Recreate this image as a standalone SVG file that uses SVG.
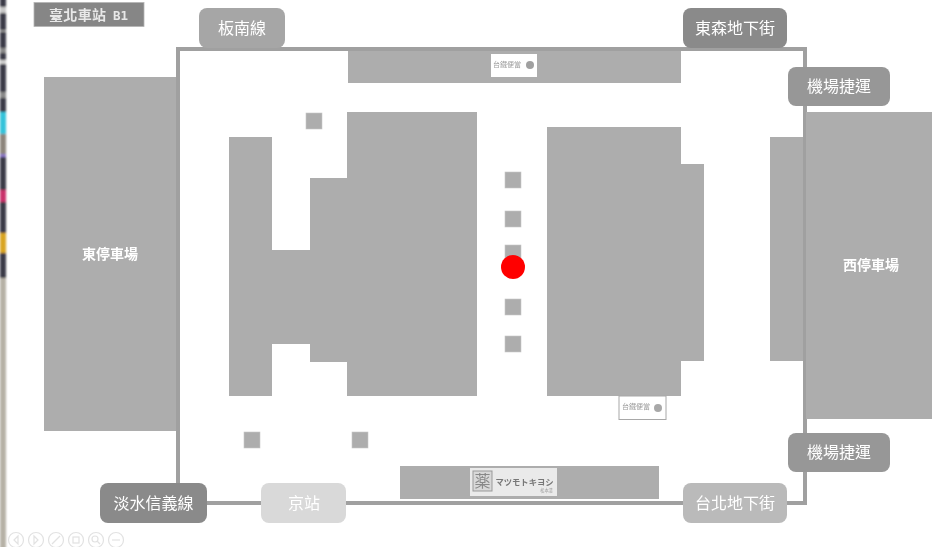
<svg xmlns="http://www.w3.org/2000/svg" width="932" height="547" viewBox="0 0 932 547">
<defs>
<filter id="soft" x="0" y="0" width="932" height="547" filterUnits="userSpaceOnUse"><feGaussianBlur stdDeviation="0.5"/></filter>
<filter id="softer" x="0" y="0" width="932" height="547" filterUnits="userSpaceOnUse"><feGaussianBlur stdDeviation="0.8"/></filter>
</defs>
<style>
.b{fill:#adadad}
.l{fill:#fff;font-family:"Noto Sans CJK TC","Noto Sans",sans-serif;text-anchor:middle;font-size:16px}
.a{fill:#fff;font-family:"Noto Sans CJK TC","Noto Sans",sans-serif;text-anchor:middle;font-size:14px;font-weight:700}
.s{fill:#adadad;stroke:#c8c8c8;stroke-width:.6}
.t{fill:none;stroke:#e2e2e2;stroke-width:1.2}
.tt{fill:#9a9a9a;font-family:"Noto Sans CJK TC",sans-serif;text-anchor:middle}
</style>
<rect width="932" height="547" fill="#fff"/>
<g id="photo-strip" filter="url(#softer)">
<rect x="0" y="-3" width="6" height="281" fill="#3a3b46"/>
<rect x="0" y="7" width="6" height="6" fill="#c8c8c8"/>
<rect x="0" y="30" width="6" height="2" fill="#9a9a9a"/>
<rect x="0" y="48" width="6" height="5" fill="#8a8a8a"/>
<rect x="0" y="60" width="6" height="4" fill="#cfcfcf"/>
<rect x="0" y="92" width="6" height="6" fill="#8a8a8a"/>
<rect x="0" y="112" width="6" height="22" fill="#35c3da"/>
<rect x="0" y="134" width="6" height="20" fill="#8d857c"/>
<rect x="0" y="154" width="6" height="3" fill="#8d78c8"/>
<rect x="0" y="190" width="6" height="12" fill="#c9336a"/>
<rect x="0" y="233" width="6" height="20" fill="#d9a520"/>
<rect x="0" y="278" width="6" height="272" fill="#b6b1a6"/>
</g>
<g filter="url(#soft)">
<g id="frame"><rect x="178" y="49" width="627" height="454" fill="none" stroke="#a0a0a0" stroke-width="4"/></g>
<g id="east-parking"><rect class="b" x="44" y="77" width="132" height="354"/><text class="a" x="110" y="259">東停車場</text></g>
<g id="west-parking"><rect class="b" x="806" y="112" width="126" height="307"/><text class="a" x="871" y="270">西停車場</text></g>
<g id="west-annex"><rect class="b" x="770" y="137" width="33" height="224"/></g>
<g id="top-store"><rect class="b" x="348" y="51" width="333" height="32"/>
<rect x="491" y="54" width="46" height="23" fill="#fff"/><text class="tt" x="507" y="67" font-size="7">台鐵便當</text><circle cx="530" cy="65" r="4" fill="#a0a0a0"/></g>
<g id="left-block"><polygon class="b" points="229,137 272,137 272,250 310,250 310,178 347,178 347,112 477,112 477,396 347,396 347,362 310,362 310,344 272,344 272,396 229,396"/></g>
<g id="right-block"><polygon class="b" points="547,127 681,127 681,164 704,164 704,361 681,361 681,396 547,396"/></g>
<g id="pillars">
<rect class="s" x="306" y="113" width="16" height="16"/>
<rect class="s" x="505" y="172" width="16" height="16"/>
<rect class="s" x="505" y="211" width="16" height="16"/>
<rect class="s" x="505" y="245" width="16" height="16"/>
<rect class="s" x="505" y="299" width="16" height="16"/>
<rect class="s" x="505" y="336" width="16" height="16"/>
<rect class="s" x="244" y="432" width="16" height="16"/>
<rect class="s" x="352" y="432" width="16" height="16"/>
</g>
<g id="you-are-here"><circle cx="513" cy="267" r="12" fill="#f00"/></g>
<g id="kiosk"><rect x="619" y="396" width="47" height="23.500" fill="#fff" stroke="#a8a8a8"/><text class="tt" x="636" y="409" font-size="7">台鐵便當</text><circle cx="658" cy="408" r="4" fill="#a8a8a8"/></g>
<g id="bottom-store"><rect class="b" x="400" y="466" width="259" height="33"/>
<rect x="470" y="468" width="87" height="28" fill="#eaeaea"/>
<rect x="473" y="471" width="19" height="20" fill="#d8d8d8" stroke="#999"/>
<text class="tt" x="482.500" y="486.500" font-size="16" style="fill:#888">薬</text>
<text class="tt" x="524.500" y="484.500" font-size="8.300" font-weight="700" style="fill:#777">マツモトキヨシ</text>
<text class="tt" x="546.500" y="492" font-size="4.200">松本清</text></g>
<g id="title"><rect x="34" y="2.500" width="110" height="24" fill="#868686" stroke="#b5b5b5" stroke-width=".8"/><text x="49" y="20" fill="#e8e8e8" font-size="14" font-weight="700" font-family="'Liberation Serif','Noto Sans CJK TC',serif" textLength="57">臺北車站</text><text x="113" y="20" fill="#e8e8e8" font-size="12.500" font-weight="700" font-family="'DejaVu Sans Mono',monospace">B1</text></g>
<g id="bannan"><rect x="199" y="8" width="86" height="40" rx="8" fill="#a6a6a6"/><text class="l" x="242" y="34">板南線</text></g>
<g id="dongsen"><rect x="683" y="8" width="104" height="40" rx="8" fill="#8a8a8a"/><text class="l" x="735" y="34">東森地下街</text></g>
<g id="airport-top"><rect x="788" y="67" width="102" height="39" rx="8" fill="#979797"/><text class="l" x="839" y="92">機場捷運</text></g>
<g id="airport-bottom"><rect x="788" y="433" width="102" height="39" rx="8" fill="#979797"/><text class="l" x="839" y="458">機場捷運</text></g>
<g id="tamsui"><rect x="100" y="483" width="107" height="40" rx="8" fill="#8a8a8a"/><text class="l" x="153.500" y="509">淡水信義線</text></g>
<g id="qsquare"><rect x="261" y="483" width="85" height="40" rx="8" fill="#d9d9d9"/><text class="l" x="304" y="509">京站</text></g>
<g id="taipei-mall"><rect x="683" y="483" width="104" height="40" rx="8" fill="#bababa"/><text class="l" x="735" y="509">台北地下街</text></g>
<g id="toolbar">
<circle class="t" cx="16" cy="540" r="7.500"/><path class="t" d="M18 536l-4 4 4 4z"/>
<circle class="t" cx="36" cy="540" r="7.500"/><path class="t" d="M34 536l4 4-4 4z"/>
<circle class="t" cx="56" cy="540" r="7.500"/><path class="t" d="M52 544l8-8" stroke-width="2"/>
<circle class="t" cx="76" cy="540" r="7.500"/><rect class="t" x="73" y="537" width="6" height="6"/>
<circle class="t" cx="96" cy="540" r="7.500"/><circle class="t" cx="95" cy="539" r="3"/><path class="t" d="M97 541l3 3"/>
<circle class="t" cx="116" cy="540" r="7.500"/><path class="t" d="M112 540h8"/>
</g>
</g>
</svg>
